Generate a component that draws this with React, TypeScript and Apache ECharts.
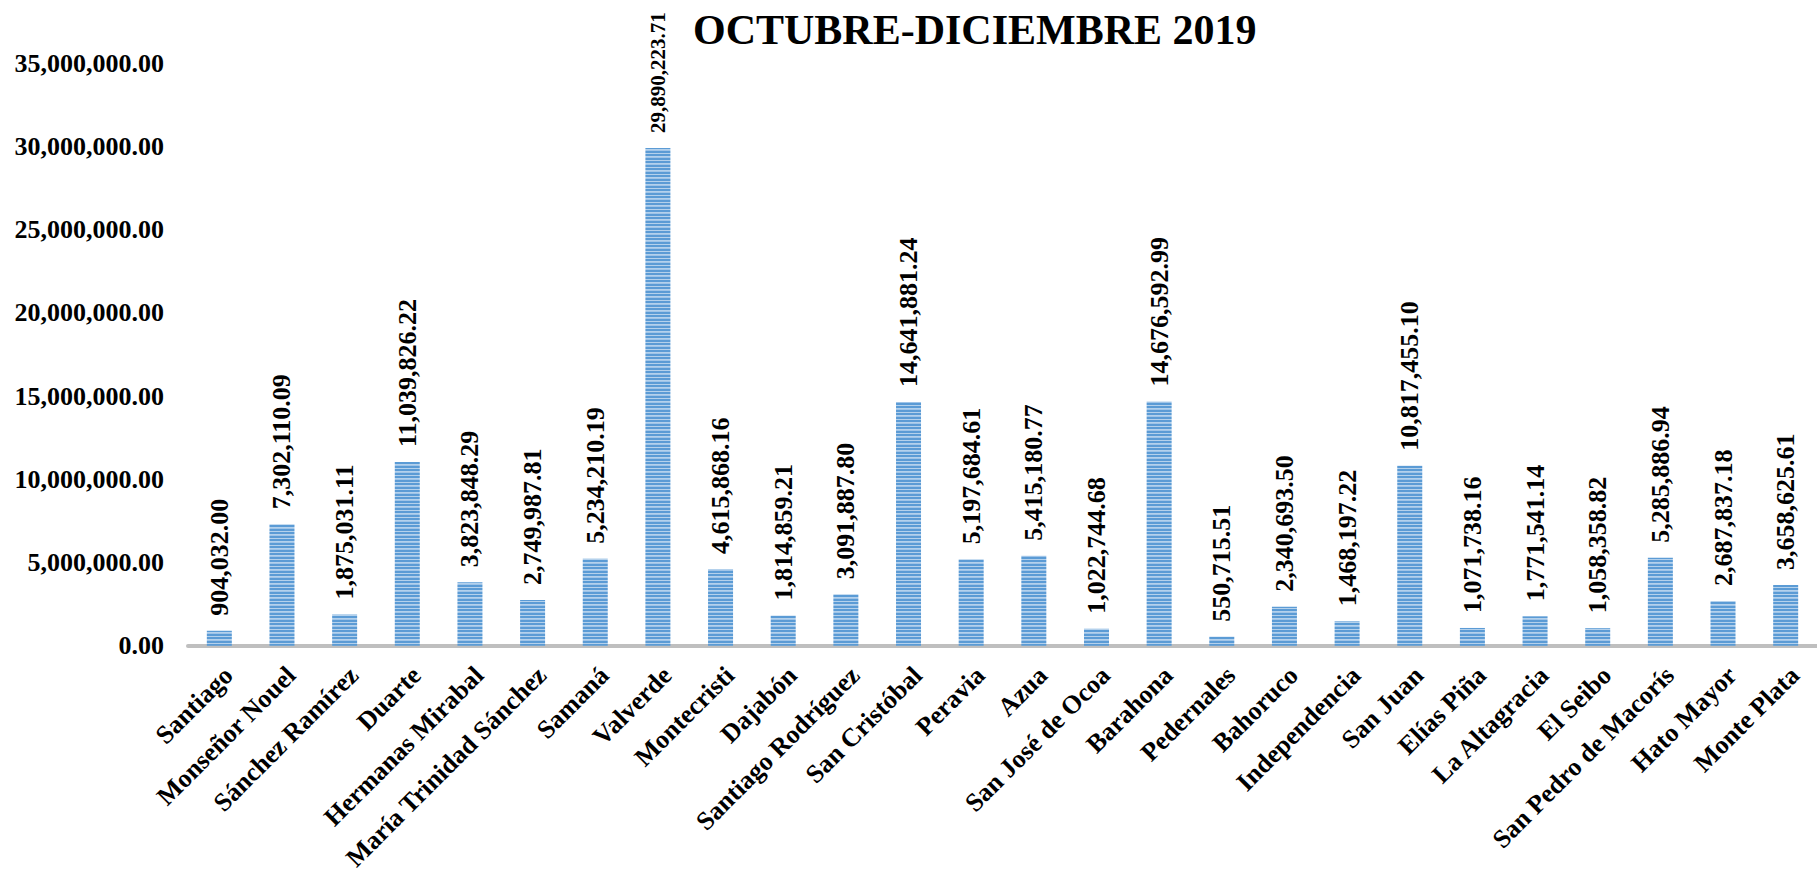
import React, { useEffect, useRef } from "react";
import * as echarts from "echarts";

const titleText = "OCTUBRE-DICIEMBRE 2019";

const provinces = [
  "Santiago",
  "Monseñor Nouel",
  "Sánchez Ramírez",
  "Duarte",
  "Hermanas Mirabal",
  "María Trinidad Sánchez",
  "Samaná",
  "Valverde",
  "Montecristi",
  "Dajabón",
  "Santiago Rodríguez",
  "San Cristóbal",
  "Peravia",
  "Azua",
  "San José de Ocoa",
  "Barahona",
  "Pedernales",
  "Bahoruco",
  "Independencia",
  "San Juan",
  "Elías Piña",
  "La Altagracia",
  "El Seibo",
  "San Pedro de Macorís",
  "Hato Mayor",
  "Monte Plata",
];

const amounts = [
  904032.0, 7302110.09, 1875031.11, 11039826.22, 3823848.29, 2749987.81,
  5234210.19, 29890223.71, 4615868.16, 1814859.21, 3091887.8, 14641881.24,
  5197684.61, 5415180.77, 1022744.68, 14676592.99, 550715.51, 2340693.5,
  1468197.22, 10817455.1, 1071738.16, 1771541.14, 1058358.82, 5285886.94,
  2687837.18, 3658625.61,
];

const yTicks = [0, 5000000, 10000000, 15000000, 20000000, 25000000, 30000000, 35000000];

const FONT = '"Liberation Serif", "Times New Roman", serif';

function fmt(v: number): string {
  return v.toLocaleString("en-US", { minimumFractionDigits: 2, maximumFractionDigits: 2 });
}

function makeStripe(): HTMLCanvasElement {
  const c = document.createElement("canvas");
  c.width = 4;
  c.height = 7;
  const ctx = c.getContext("2d")!;
  const rows = ["#5B9BD5", "#5B9BD5", "#B4D1EC", "#9FC4E8", "#5B9BD5", "#5B9BD5", "#B4D1EC"];
  rows.forEach((col, i) => {
    ctx.fillStyle = col;
    ctx.fillRect(0, i, 4, 1);
  });
  return c;
}

export default function App() {
  const ref = useRef<HTMLDivElement>(null);

  useEffect(() => {
    document.body.style.margin = "0";
    document.body.style.overflow = "hidden";
    if (!ref.current) return;
    const chart = echarts.init(ref.current, undefined, { renderer: "svg" });
    const stripe = makeStripe();
    const maxIdx = amounts.indexOf(Math.max(...amounts));

    chart.setOption({
      animation: false,
      backgroundColor: "#ffffff",
      graphic: [
        {
          type: "text",
          left: 973 - 280,
          top: 9,
          style: {
            text: titleText,
            font: `bold 42px ${FONT}`,
            fill: "#000000",
          },
        },
      ],
      grid: {
        left: 188,
        top: 63,
        width: 1644,
        height: 583,
        containLabel: false,
      },
      xAxis: {
        type: "category",
        data: provinces,
        axisLine: { show: true, lineStyle: { color: "#BFBFBF", width: 4 } },
        axisTick: { show: false },
        axisLabel: {
          interval: 0,
          rotate: 45,
          margin: 16,
          verticalAlign: "top",
          color: "#000000",
          fontFamily: FONT,
          fontWeight: "bold",
          fontSize: 26,
        },
      },
      yAxis: {
        type: "value",
        min: 0,
        max: 35000000,
        interval: 5000000,
        splitLine: { show: false },
        axisLine: { show: false },
        axisTick: { show: false },
        axisLabel: {
          margin: 24,
          color: "#000000",
          fontFamily: FONT,
          fontWeight: "bold",
          fontSize: 26,
          formatter: (v: number) => (yTicks.includes(v) ? fmt(v) : ""),
        },
      },
      series: [
        {
          type: "bar",
          barWidth: 25,
          data: amounts.map((v, i) =>
            i === maxIdx ? { value: v, label: { fontSize: 21 } } : v
          ),
          itemStyle: {
            color: { image: stripe, repeat: "repeat" },
          },
          label: {
            show: true,
            position: "top",
            rotate: 90,
            align: "left",
            verticalAlign: "middle",
            distance: 15,
            color: "#000000",
            fontFamily: FONT,
            fontWeight: "bold",
            fontSize: 26,
            formatter: (p: any) => fmt(p.value),
          },
        },
      ],
    });

    return () => chart.dispose();
  }, []);

  return <div ref={ref} style={{ width: 1817, height: 874 }} />;
}
